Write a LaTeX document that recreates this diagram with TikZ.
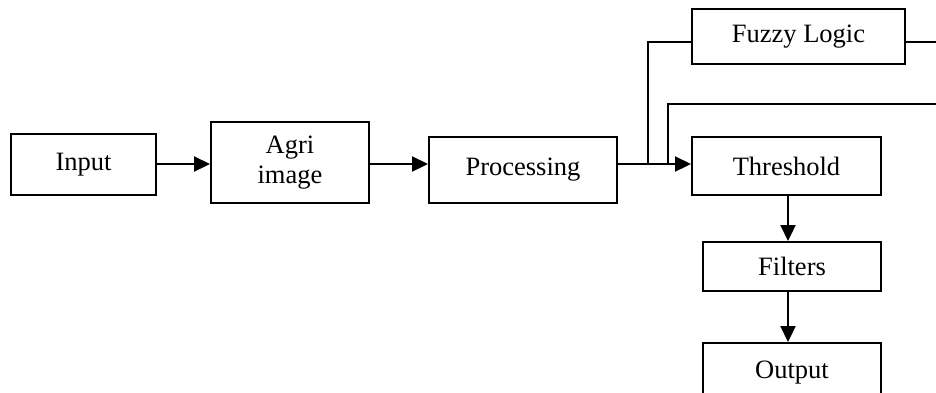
\documentclass[tikz,border=0pt]{standalone}
\usepackage{fontspec}
\setmainfont{Liberation Serif}
\usetikzlibrary{arrows.meta}
\begin{document}
\begin{tikzpicture}[x=1pt,y=-1pt,
  blk/.style={draw,line width=2pt,inner sep=0pt,font=\fontsize{26.5}{30}\selectfont,align=center},
  conn/.style={line width=2.2pt},
  arr/.style={conn,-{Triangle[length=16pt,width=15pt]}}]
\useasboundingbox (0,0) rectangle (936,392);
\node[blk,minimum width=145pt,minimum height=61pt] (in) at (83.5,164.5) {Input};
\node[blk,minimum width=158pt,minimum height=81pt] (agri) at (290,162.5) {Agri\\image};
\node[blk,minimum width=188pt,minimum height=66pt] (proc) at (523,170) {Processing};
\node[blk,minimum width=213pt,minimum height=55pt] (fuzzy) at (798.5,36.5) {Fuzzy Logic};
\node[blk,minimum width=189pt,minimum height=58pt] (thr) at (786.5,166) {Threshold};
\node[blk,minimum width=178pt,minimum height=49pt] (filt) at (792,266.5) {Filters};
\node[blk,minimum width=178pt,minimum height=60pt] (out) at (792,373) {Output};
\coordinate (j1) at (648,164);
\coordinate (j2) at (668,164);
\coordinate (e1) at (936,42);
\coordinate (e2) at (936,104);
\draw[arr] (in.east |- 0,164) -- (agri.west |- 0,164);
\draw[arr] (agri.east |- 0,164) -- (proc.west |- 0,164);
\draw[arr] (proc.east |- 0,164) -- (thr.west |- 0,164);
\draw[conn] (j1) |- (fuzzy.west |- 0,42);
\draw[conn] (j2) |- (e2);
\draw[conn] (fuzzy.east |- 0,42) -- (e1);
\draw[arr] (thr.south -| 788,0) -- (filt.north -| 788,0);
\draw[arr] (filt.south -| 788,0) -- (out.north -| 788,0);
\end{tikzpicture}
\end{document}
